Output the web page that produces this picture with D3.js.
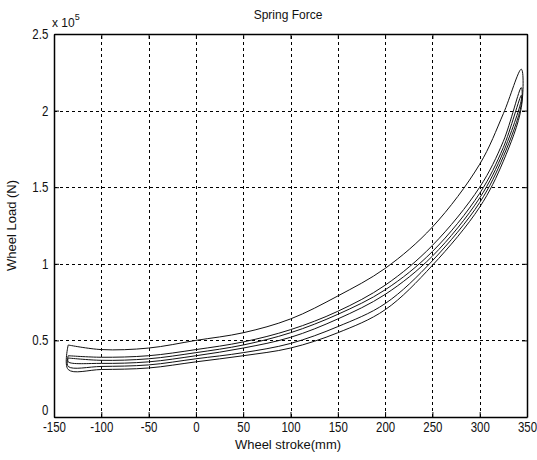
<!DOCTYPE html>
<html>
<head>
<meta charset="utf-8">
<script src="https://cdn.jsdelivr.net/npm/d3@7"></script>
<style>
  body { margin: 0; background: #fff; }
  text { font-family: "Liberation Sans", Arial, sans-serif; fill: #111; }
</style>
</head>
<body>
<div id="chart"></div>
<script>
// data (wheel stroke in mm, wheel load in 1e5 N)
const strokePts = [-135, -100, -50, 0, 50, 100, 150, 200, 250, 300, 325, 344]

const curveA = [0.47, 0.44, 0.45, 0.50, 0.55, 0.64, 0.79, 0.97, 1.24, 1.65, 1.98, 2.27]
const curveB = [0.40, 0.39, 0.40, 0.44, 0.49, 0.57, 0.69, 0.86, 1.12, 1.50, 1.80, 2.15]
const curveC = [0.385, 0.37, 0.38, 0.42, 0.47, 0.55, 0.67, 0.83, 1.08, 1.46, 1.76, 2.10]
const curveD = [0.36, 0.35, 0.36, 0.40, 0.45, 0.52, 0.64, 0.80, 1.05, 1.43, 1.73, 2.07]
const curveE = [0.33, 0.33, 0.34, 0.38, 0.42, 0.48, 0.59, 0.74, 1.02, 1.40, 1.70, 2.04]
const curveF = [0.31, 0.31, 0.32, 0.36, 0.40, 0.45, 0.55, 0.70, 0.99, 1.37, 1.67, 2.02]

// loops: loading branch / unloading branch
const loops = [[curveA, curveF], [curveB, curveE], [curveC, curveD]]

const xTicks = [-150, -100, -50, 0, 50, 100, 150, 200, 250, 300, 350]
const yTicks = [0, 0.5, 1, 1.5, 2, 2.5]

const titleText = `Spring Force`
const xLabel = `Wheel stroke(mm)`
const yLabel = `Wheel Load (N)`

// layout
const width = 537, height = 460
const margin = { top: 34, right: 10, bottom: 43, left: 54 }

const svg = d3.select(`#chart`).append(`svg`)
  .attr(`width`, width)
  .attr(`height`, height)

const x = d3.scaleLinear().domain([-150, 350]).range([margin.left, width - margin.right])
const y = d3.scaleLinear().domain([0, 2.5]).range([height - margin.bottom, margin.top])

// grid
const grid = svg.append(`g`).attr(`stroke`, `#000`).attr(`stroke-width`, 1).attr(`stroke-dasharray`, `3,3`)
xTicks.slice(1, -1).forEach(t => {
  grid.append(`line`).attr(`x1`, Math.round(x(t)) + 0.5).attr(`x2`, Math.round(x(t)) + 0.5)
    .attr(`y1`, y(0)).attr(`y2`, y(2.5))
})
yTicks.slice(1, -1).forEach(t => {
  grid.append(`line`).attr(`y1`, Math.round(y(t)) + 0.5).attr(`y2`, Math.round(y(t)) + 0.5)
    .attr(`x1`, x(-150)).attr(`x2`, x(350))
})

// axes (ticks pointing inward), plain hyphen for negatives
const fmt = d => d3.format(`~g`)(d).replace(`\u2212`, `-`)
svg.append(`g`).attr(`transform`, `translate(0,${y(0)})`)
  .call(d3.axisBottom(x).tickValues(xTicks).tickSizeInner(-5).tickSizeOuter(0).tickPadding(5).tickFormat(fmt))
svg.append(`g`).attr(`transform`, `translate(0,${y(2.5)})`)
  .call(d3.axisTop(x).tickValues(xTicks).tickSizeInner(-5).tickSizeOuter(0).tickFormat(``))
const axL = svg.append(`g`).attr(`transform`, `translate(${x(-150)},0)`)
  .call(d3.axisLeft(y).tickValues(yTicks).tickSizeInner(-5).tickSizeOuter(0).tickPadding(7).tickFormat(fmt))
svg.append(`g`).attr(`transform`, `translate(${x(350)},0)`)
  .call(d3.axisRight(y).tickValues(yTicks).tickSizeInner(-5).tickSizeOuter(0).tickFormat(``))

svg.selectAll(`.domain`).attr(`stroke`, `#000`).attr(`stroke-width`, 1.5)
svg.selectAll(`.tick line`).attr(`stroke`, `#000`)
svg.selectAll(`.tick text`).attr(`font-size`, 14).attr(`fill`, `#111`)
  .style(`font-family`, `"Liberation Sans", Arial, sans-serif`)
  .attr(`transform`, `scale(0.82,1)`)

// lift the "0" label so it clears the -150 label
axL.selectAll(`.tick text`).filter(d => d === 0).attr(`dy`, `-0.2em`)

// hysteresis loops
const line = d3.line().x(d => x(d[0])).y(d => y(d[1])).curve(d3.curveCatmullRom.alpha(0.5))
loops.forEach(([up, down]) => {
  const pts = strokePts.map((s, i) => [s, up[i]])
    .concat(strokePts.map((s, i) => [s, down[i]]).reverse())
  pts.push(pts[0])
  svg.append(`path`)
    .attr(`d`, line(pts))
    .attr(`fill`, `none`)
    .attr(`stroke`, `#111`)
    .attr(`stroke-width`, 1)
})

// texts
svg.append(`text`).attr(`x`, 288).attr(`y`, 19).attr(`text-anchor`, `middle`).attr(`font-size`, 12).text(titleText)
svg.append(`text`).attr(`x`, 288).attr(`y`, 449).attr(`text-anchor`, `middle`).attr(`font-size`, 13).text(xLabel)
svg.append(`text`).attr(`transform`, `translate(16,${(y(0) + y(2.5)) / 2}) rotate(-90)`)
  .attr(`text-anchor`, `middle`).attr(`font-size`, 13).text(yLabel)

const expo = svg.append(`text`).attr(`x`, 52).attr(`y`, 27).attr(`font-size`, 12)
expo.append(`tspan`).text(`x 10`)
expo.append(`tspan`).attr(`dy`, -7).attr(`font-size`, 9).text(`5`)
</script>
</body>
</html>
